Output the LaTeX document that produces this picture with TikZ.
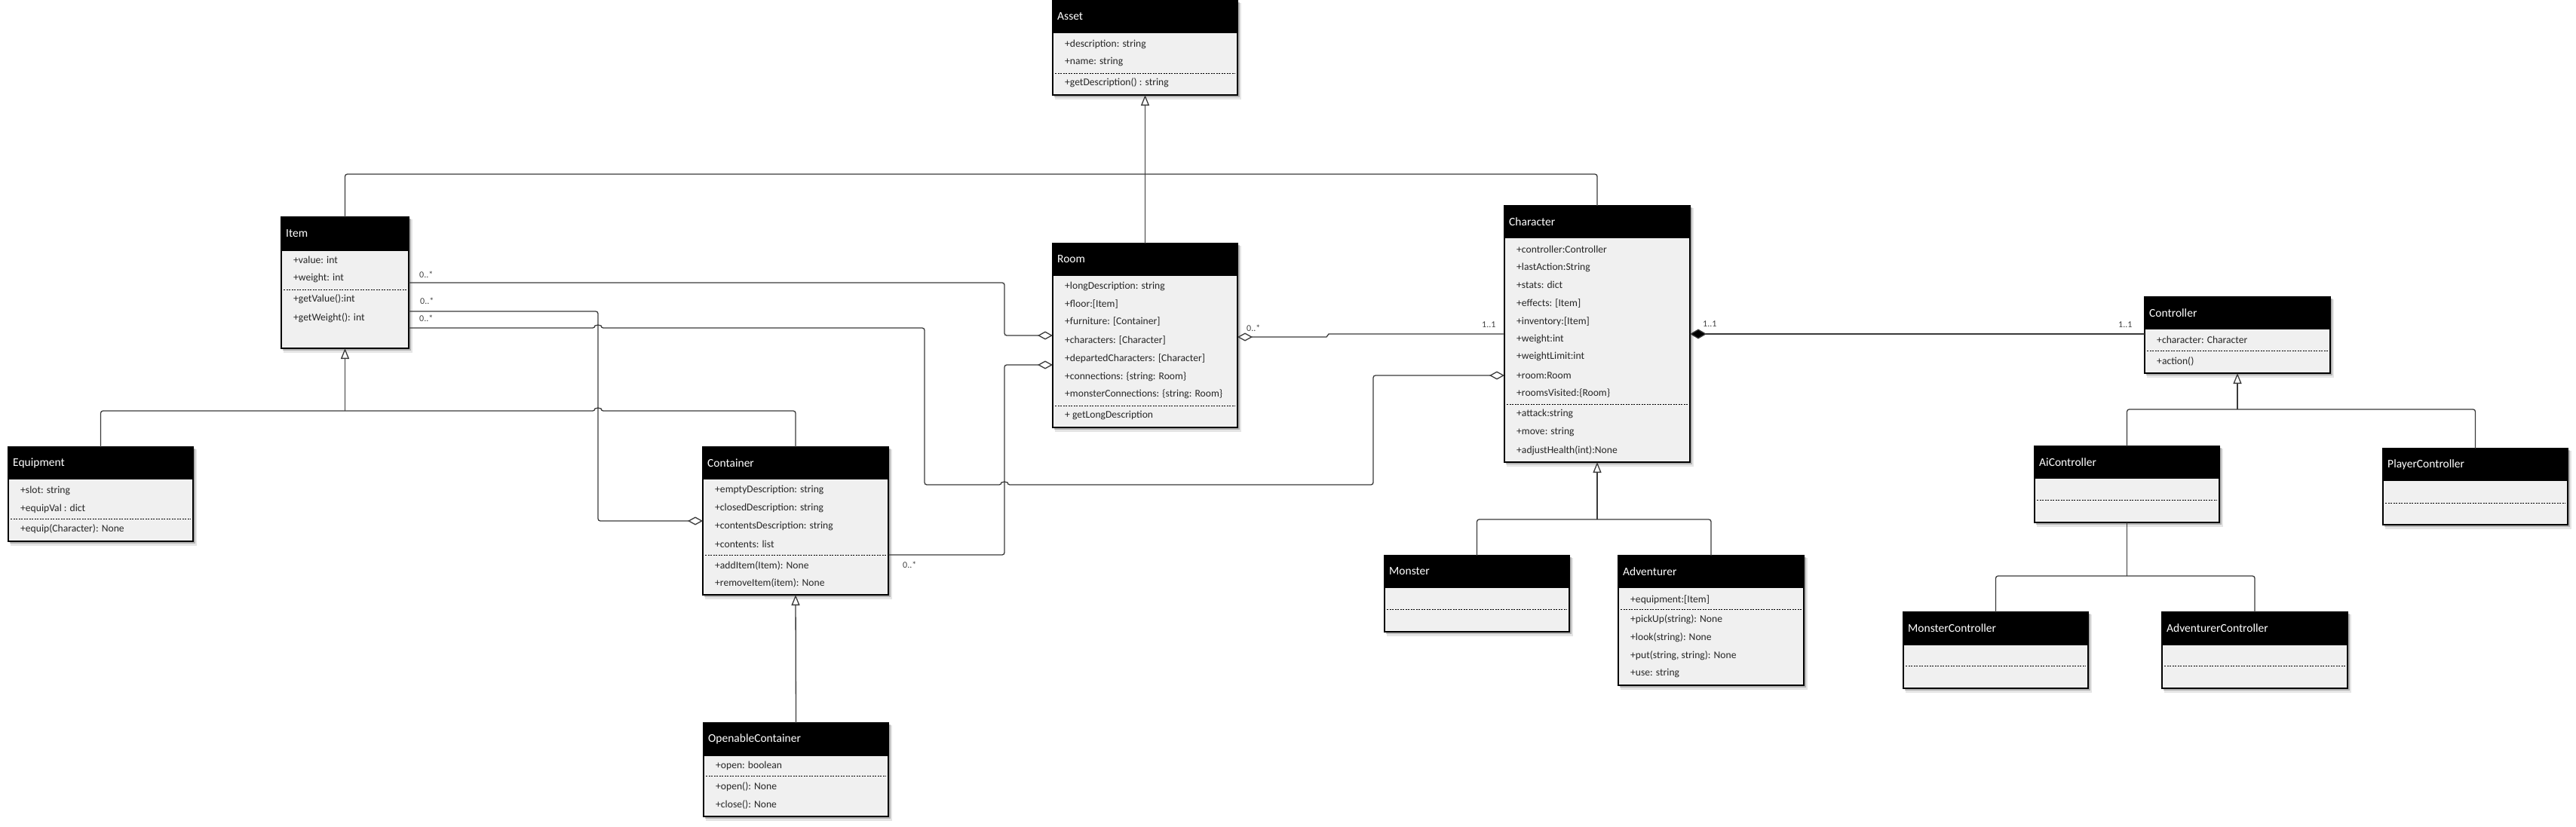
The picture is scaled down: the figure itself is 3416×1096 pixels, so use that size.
\documentclass[tikz,border=0pt]{standalone}
\usepackage{fontspec}
\setmainfont{Carlito}
\usetikzlibrary{arrows.meta}
\definecolor{bodygray}{HTML}{F0F0F0}
\definecolor{linegray}{HTML}{3A3A3A}
\definecolor{txtgray}{HTML}{262626}
\definecolor{multgray}{HTML}{404040}
\newcommand{\umlclass}[7]{%
  \pgfmathsetmacro{\clsH}{#6-#3}%
  \pgfmathsetmacro{\clsHH}{#5-#3}%
  \pgfmathsetmacro{\clsR}{#2+#4}%
  \fill[black,opacity=0.10] ({#2+3},{#3+3}) rectangle ({\clsR+5},{#6+6});
  \fill[black,opacity=0.22] ({#2+2},{#3+2}) rectangle ({\clsR+3},{#6+3});
  \node[boxbody, minimum width=#4pt, minimum height=\clsH pt] (#1) at (#2,#3) {};
  \node[boxhead, minimum width=#4pt, minimum height=\clsHH pt] (#1-head) at (#2,#3) {};
  \node[ttl] (#1-title) at ({#2+6},{(#3+#5)/2}) {#7};
}
\newcommand{\umlrow}[4]{\node[rowtxt] (#1) at ({#2+16},#3) {#4};}
\newcommand{\umlsep}[3]{\draw[sepline] ({#1+3},#3) -- ({#1+#2-3},#3);}
\begin{document}
\begin{tikzpicture}[
  x=1pt, y=-1pt,
  boxbody/.style={draw=black, line width=1.2pt, fill=bodygray, inner sep=0pt, outer sep=0pt, anchor=north west},
  boxhead/.style={draw=black, line width=1.2pt, fill=black, inner sep=0pt, outer sep=0pt, anchor=north west},
  ttl/.style={anchor=west, text=white, font=\fontsize{15.5}{18}\selectfont, inner sep=0pt},
  rowtxt/.style={anchor=west, text=txtgray, font=\fontsize{13.6}{16}\selectfont, inner sep=0pt},
  sepline/.style={line width=0.9pt, black, dash pattern=on 2pt off 1.5pt},
  conn/.style={draw=linegray, line width=1.3pt, rounded corners=3pt},
  gen/.style={conn, -{Triangle[open, width=11pt, length=14pt, fill=white]}},
  agg/.style={conn, -{Diamond[open, width=11pt, length=20pt, fill=white]}},
  comp/.style={conn, {Diamond[width=13pt, length=22pt, fill=black]}-},
  mult/.style={anchor=west, text=multgray, font=\fontsize{12}{14}\selectfont, inner sep=0pt},
]
\useasboundingbox (0,0) rectangle (3416,1096);

% ---------- classes ----------
\umlclass{Asset}{1396}{1}{245}{43}{126}{Asset}
\umlrow{asset-r1}{1396}{59}{+description: string}
\umlrow{asset-r2}{1396}{82}{+name: string}
\umlsep{1396}{245}{97}
\umlrow{asset-r3}{1396}{110}{+getDescription() : string}

\umlclass{Item}{373}{288}{169}{332}{462}{Item}
\umlrow{item-r1}{373}{345}{+value: int}
\umlrow{item-r2}{373}{369}{+weight: int}
\umlsep{373}{169}{384}
\umlrow{item-r3}{373}{397}{+getValue():int}
\umlrow{item-r4}{373}{422}{+getWeight(): int}

\umlclass{Room}{1396}{323}{245}{365}{567}{Room}
\umlrow{room-r1}{1396}{380}{+longDescription: string}
\umlrow{room-r2}{1396}{404}{+floor:[Item]}
\umlrow{room-r3}{1396}{427}{+furniture: [Container]}
\umlrow{room-r4}{1396}{452}{+characters: [Character]}
\umlrow{room-r5}{1396}{476}{+departedCharacters: [Character]}
\umlrow{room-r6}{1396}{500}{+connections: \{string: Room\}}
\umlrow{room-r7}{1396}{523}{+monsterConnections: \{string: Room\}}
\umlsep{1396}{245}{538}
\umlrow{room-r8}{1396}{551}{+ getLongDescription}

\umlclass{Character}{1995}{273}{246}{315}{613}{Character}
\umlrow{char-r1}{1995}{331}{+controller:Controller}
\umlrow{char-r2}{1995}{355}{+lastAction:String}
\umlrow{char-r3}{1995}{378}{+stats: dict}
\umlrow{char-r4}{1995}{403}{+effects: [Item]}
\umlrow{char-r5}{1995}{427}{+inventory:[Item]}
\umlrow{char-r6}{1995}{450}{+weight:int}
\umlrow{char-r7}{1995}{473}{+weightLimit:int}
\umlrow{char-r8}{1995}{498}{+room:Room}
\umlrow{char-r9}{1995}{522}{+roomsVisited:\{Room\}}
\umlsep{1995}{246}{536}
\umlrow{char-r10}{1995}{549}{+attack:string}
\umlrow{char-r11}{1995}{573}{+move: string}
\umlrow{char-r12}{1995}{598}{+adjustHealth(int):None}

\umlclass{Equipment}{11}{593}{245}{635}{718}{Equipment}
\umlrow{equip-r1}{11}{651}{+slot: string}
\umlrow{equip-r2}{11}{675}{+equipVal : dict}
\umlsep{11}{245}{688}
\umlrow{equip-r3}{11}{702}{+equip(Character): None}

\umlclass{Container}{932}{593}{246}{635}{789}{Container}
\umlrow{cont-r1}{932}{650}{+emptyDescription: string}
\umlrow{cont-r2}{932}{674}{+closedDescription: string}
\umlrow{cont-r3}{932}{698}{+contentsDescription: string}
\umlrow{cont-r4}{932}{722}{+contents: list}
\umlsep{932}{246}{736}
\umlrow{cont-r5}{932}{750}{+addItem(Item): None}
\umlrow{cont-r6}{932}{773}{+removeItem(item): None}

\umlclass{OpenableContainer}{933}{959}{245}{1002}{1083}{OpenableContainer}
\umlrow{open-r1}{933}{1016}{+open: boolean}
\umlsep{933}{245}{1029}
\umlrow{open-r2}{933}{1044}{+open(): None}
\umlrow{open-r3}{933}{1067}{+close(): None}

\umlclass{Monster}{1836}{737}{245}{779}{838}{Monster}
\umlsep{1836}{245}{808}

\umlclass{Adventurer}{2146}{737}{246}{779}{909}{Adventurer}
\umlrow{adv-r1}{2146}{796}{+equipment:[Item]}
\umlsep{2146}{246}{808}
\umlrow{adv-r2}{2146}{822}{+pickUp(string): None}
\umlrow{adv-r3}{2146}{846}{+look(string): None}
\umlrow{adv-r4}{2146}{870}{+put(string, string): None}
\umlrow{adv-r5}{2146}{893}{+use: string}

\umlclass{Controller}{2844}{394}{246}{436}{495}{Controller}
\umlrow{ctrl-r1}{2844}{451}{+character: Character}
\umlsep{2844}{246}{465}
\umlrow{ctrl-r2}{2844}{479}{+action()}

\umlclass{AiController}{2698}{592}{245}{634}{693}{AiController}
\umlsep{2698}{245}{663}

\umlclass{PlayerController}{3160}{595}{245}{637}{696}{PlayerController}
\umlsep{3160}{245}{667}

\umlclass{MonsterController}{2524}{812}{245}{855}{913}{MonsterController}
\umlsep{2524}{245}{883}

\umlclass{AdventurerController}{2867}{812}{246}{855}{913}{AdventurerController}
\umlsep{2867}{246}{883}

% ---------- junctions ----------
\coordinate (assetJ) at (Asset.south |- 0,231);
\coordinate (itemJ) at (Item.south |- 0,545);
\coordinate (charJ) at (Character.south |- 0,689);
\coordinate (ctrlJ) at (Controller.south |- 0,543);
\coordinate (aiJ) at (AiController.south |- 0,764);

% ---------- generalizations ----------
\draw[gen] (Room.north) -- (Asset.south);
\draw[conn] (Item.north) |- (assetJ) -| (Character.north);

\draw[gen] (itemJ) -- (Item.south);
\draw[conn] (Equipment.north) |- (789,545) arc[start angle=180, end angle=0, radius=4pt] -- (Container.north |- itemJ) -- (Container.north);
\draw[gen] (OpenableContainer.north) -- (Container.south);

\draw[gen] (charJ) -- (Character.south);
\draw[conn] (Monster.north) |- (charJ) -| (Adventurer.north);

\draw[gen] (ctrlJ) -- (Controller.south);
\draw[conn] (AiController.north) |- (ctrlJ) -| (PlayerController.north);

\draw[conn] (AiController.south) -- (aiJ);
\draw[conn] (MonsterController.north) |- (aiJ) -| (AdventurerController.north);

% ---------- aggregations ----------
\draw[agg] (Item.east) -- (1332,375) -- (1332,445) -- (Room.west);
\draw[agg] (Item.east |- 0,413) -- (793,413) -- (793,691) -- (Container.west);
\draw[agg] (Item.east |- 0,435) -- (789,435) arc[start angle=180, end angle=0, radius=4pt] -- (1226,435) -- (1226,643) -- (1328,643) arc[start angle=180, end angle=0, radius=4pt] -- (1821,643) -- (1821,498) -- (Character.west |- 0,498);
\draw[agg] (Container.east |- 0,736) -- (1332,736) -- (1332,484) -- (Room.west |- 0,484);
\draw[draw=linegray, line width=1.3pt, {Diamond[open, width=11pt, length=20pt, fill=white]}-] (Room.east |- 0,447) -- (1759,447) -- (1762,443) -- (Character.west |- 0,443);
\draw[comp] (Character.east |- 0,443) -- (Controller.west |- 0,443);

% ---------- multiplicities ----------
\node[mult] (m1) at (556,364) {0..*};
\node[mult] (m2) at (557,399) {0..*};
\node[mult] (m3) at (556,422) {0..*};
\node[mult] (m4) at (1653,435) {0..*};
\node[mult] (m5) at (1965,431) {1..1};
\node[mult] (m6) at (2258,430) {1..1};
\node[mult] (m7) at (2809,431) {1..1};
\node[mult] (m8) at (1197,749) {0..*};
\end{tikzpicture}
\end{document}
